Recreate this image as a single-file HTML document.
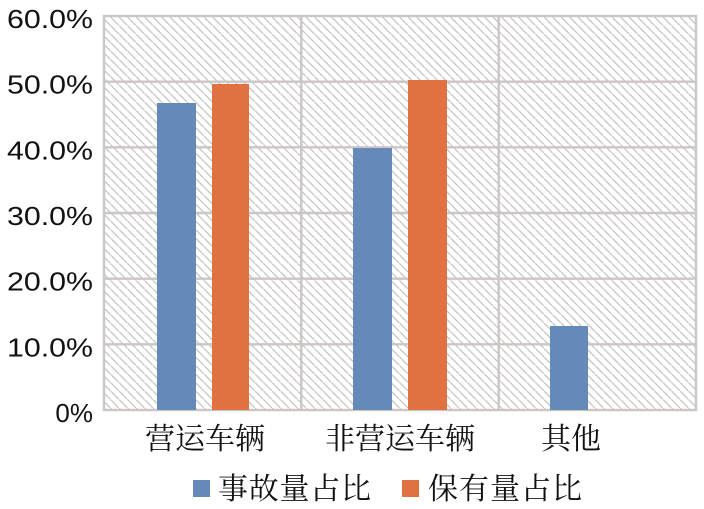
<!DOCTYPE html>
<html><head><meta charset="utf-8">
<style>
html,body{margin:0;padding:0;background:#fff;}
svg{display:block;}
</style></head>
<body>
<svg width="704" height="509" viewBox="0 0 704 509" xmlns="http://www.w3.org/2000/svg">
<defs>
<pattern id="h" patternUnits="userSpaceOnUse" width="8.5" height="8.5">
<path d="M-1,-1 L9.5,9.5" stroke="#c4c4c4" stroke-width="1.3"/>
</pattern>
</defs>
<rect x="0" y="0" width="704" height="509" fill="#fff"/>
<rect x="104" y="16" width="592" height="394" fill="url(#h)"/>
<g stroke="#cbc6c3" stroke-width="2.4" fill="none">
<line x1="104" y1="81.7" x2="696" y2="81.7"/>
<line x1="104" y1="147.3" x2="696" y2="147.3"/>
<line x1="104" y1="213" x2="696" y2="213"/>
<line x1="104" y1="278.7" x2="696" y2="278.7"/>
<line x1="104" y1="344.3" x2="696" y2="344.3"/>
<line x1="301.3" y1="16" x2="301.3" y2="410"/>
<line x1="498.7" y1="16" x2="498.7" y2="410"/>
<rect x="104" y="16" width="592" height="394"/>
</g>
<g>
<rect x="157" y="103" width="39" height="307" fill="#6589b9"/>
<rect x="212" y="84" width="37" height="326" fill="#df7240"/>
<rect x="353" y="148" width="39" height="262" fill="#6589b9"/>
<rect x="408" y="80" width="39" height="330" fill="#df7240"/>
<rect x="550" y="326" width="38" height="84" fill="#6589b9"/>
</g>
<g font-family="Liberation Sans, Arial, sans-serif" font-size="26" fill="#111" text-anchor="end">
<text x="93" y="28" textLength="86" lengthAdjust="spacingAndGlyphs">60.0%</text>
<text x="93" y="93.7" textLength="86" lengthAdjust="spacingAndGlyphs">50.0%</text>
<text x="93" y="159.3" textLength="86" lengthAdjust="spacingAndGlyphs">40.0%</text>
<text x="93" y="225" textLength="86" lengthAdjust="spacingAndGlyphs">30.0%</text>
<text x="93" y="290.7" textLength="86" lengthAdjust="spacingAndGlyphs">20.0%</text>
<text x="93" y="356.3" textLength="86" lengthAdjust="spacingAndGlyphs">10.0%</text>
<text x="93" y="422">0%</text>
</g>
<g font-family="'Noto Serif CJK SC','Liberation Serif',serif" font-size="30" fill="#111" text-anchor="middle">
<text x="205" y="449">营运车辆</text>
<text x="400" y="449">非营运车辆</text>
<text x="571" y="449">其他</text>
</g>
<rect x="193" y="480" width="17" height="17" fill="#6589b9"/>
<rect x="402" y="480" width="17" height="17" fill="#df7240"/>
<g font-family="'Noto Serif CJK SC','Liberation Serif',serif" font-size="30" fill="#111">
<text x="218" y="499" textLength="153" lengthAdjust="spacing">事故量占比</text>
<text x="428" y="499" textLength="154" lengthAdjust="spacing">保有量占比</text>
</g>
</svg>
</body></html>
